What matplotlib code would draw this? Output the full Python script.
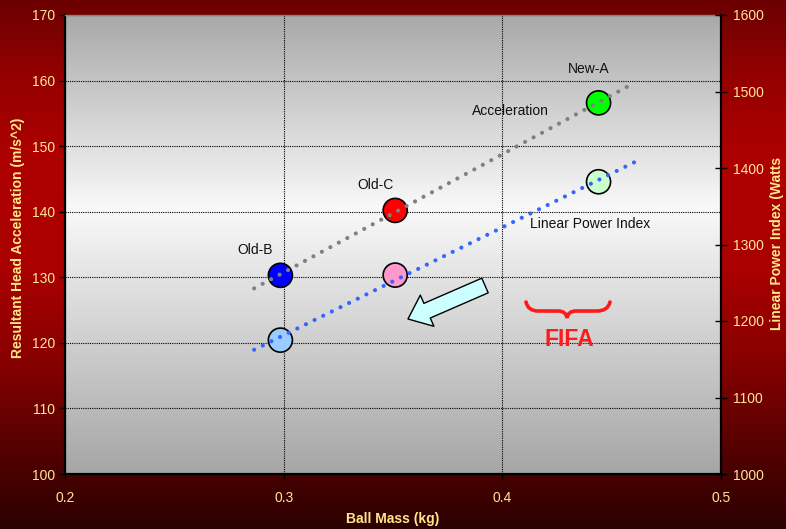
import numpy as np
import matplotlib
matplotlib.use('Agg')
import matplotlib.pyplot as plt
from matplotlib.colors import LinearSegmentedColormap
from matplotlib.patches import FancyArrowPatch, PathPatch
from matplotlib.path import Path

# ---- data ----
balls = ['Old-B', 'Old-C', 'New-A']
ball_mass = [0.2985, 0.351, 0.444]
head_accel = [130.3, 140.2, 156.6]
power_index = [1175, 1260, 1382]
accel_colors = ['#0000ff', '#ff0000', '#00ff00']
power_colors = ['#99ccff', '#ff99cc', '#ccffcc']
x_ticks = [0.2, 0.3, 0.4, 0.5]
x_tick_labels = ['0.2', '0.3', '0.4', '0.5']
y_ticks = [100, 110, 120, 130, 140, 150, 160, 170]
y2_ticks = [1000, 1100, 1200, 1300, 1400, 1500, 1600]
# trendline forecast (backward, forward), like a spreadsheet trendline
accel_forecast = (0.012, 0.014)
power_forecast = (0.012, 0.017)

plt.rcParams['font.family'] = ['Liberation Sans', 'DejaVu Sans']

W, H = 786, 529
fig = plt.figure(figsize=(W / 100, H / 100), dpi=100)

# axes placement in pixels
L, R, T, B = 65, 721, 15, 474

def fx(px):
    return (px - L) / (R - L)

def fy(py):
    return (B - py) / (B - T)

# background gradients
bg = fig.add_axes([0, 0, 1, 1], zorder=-10)
bg.axis('off')
red_cmap = LinearSegmentedColormap.from_list(
    'red', [(0, '#2c0000'), (0.14, '#520000'), (0.32, '#880000'),
            (0.5, '#ab0000'), (0.7, '#ae0000'), (0.86, '#940000'), (1, '#6c0000')])
grad = np.linspace(0, 1, 256).reshape(-1, 1)
bg.imshow(grad, cmap=red_cmap, aspect='auto', extent=[0, 1, 0, 1], origin='lower')
gray_cmap = LinearSegmentedColormap.from_list(
    'gray', [(0, '#a6a6a6'), (0.58, '#f9f9f9'), (1, '#a9a9a9')])
bg.imshow(grad, cmap=gray_cmap, aspect='auto',
          extent=[L / W, R / W, 1 - B / H, 1 - T / H], origin='lower')
bg.set_xlim(0, 1)
bg.set_ylim(0, 1)

ax = fig.add_axes([L / W, 1 - B / H, (R - L) / W, (B - T) / H])
ax.patch.set_visible(False)
ax2 = ax.twinx()
ax2.patch.set_visible(False)

ax.set_xlim(0.2, 0.5)
ax.set_ylim(100, 170)
ax2.set_ylim(1000, 1600)

tick_col = '#ffe699'
label_col = '#ffe88a'

ax.set_xticks(x_ticks)
ax.set_xticklabels(x_tick_labels)
ax.set_yticks(y_ticks)
ax2.set_yticks(y2_ticks)

ax.grid(True, color='black', linestyle=(0, (1, 1)), linewidth=0.8)

ax.tick_params(axis='y', direction='out', length=4, width=1, pad=3,
               labelsize=10, labelcolor=tick_col, right=False)
ax.tick_params(axis='x', direction='out', length=4, width=1, pad=8,
               labelsize=10, labelcolor=tick_col, top=False)
ax2.tick_params(axis='y', direction='inout', length=8, width=1, pad=5,
                labelsize=10, labelcolor=tick_col)

for s in ['left', 'bottom']:
    ax.spines[s].set_color('black')
    ax.spines[s].set_linewidth(1.6)
ax.spines['top'].set_color('#808080')
ax.spines['top'].set_linewidth(1)
ax.spines['right'].set_visible(False)
for s in ['left', 'bottom', 'top']:
    ax2.spines[s].set_visible(False)
ax2.spines['right'].set_color('black')
ax2.spines['right'].set_linewidth(1.6)

# markers
ax.scatter(ball_mass, head_accel, s=300, c=accel_colors, edgecolors='black',
           linewidths=1.2, zorder=3)
ax2.scatter(ball_mass, power_index, s=300, c=power_colors, edgecolors='black',
            linewidths=1.2, zorder=3)

# trendlines
dot_style = (0, (0.01, 2.3))
for axis, yv, col, fc in [(ax, head_accel, '#808080', accel_forecast),
                          (ax2, power_index, '#3366ff', power_forecast)]:
    coef = np.polyfit(ball_mass, yv, 1)
    tx = np.array([min(ball_mass) - fc[0], max(ball_mass) + fc[1]])
    axis.plot(tx, np.polyval(coef, tx), color=col, lw=3, linestyle=dot_style,
              dash_capstyle='round', zorder=4)

# point labels
txt_kw = dict(transform=ax2.transAxes, ha='center', va='center', fontsize=10,
              color='#111111', zorder=7)
ax2.text(fx(255), fy(250), 'Old-B', **txt_kw)
ax2.text(fx(375), fy(185), 'Old-C', **txt_kw)
ax2.text(fx(589), fy(69), 'New-A', **txt_kw)
ax2.text(fx(510), fy(111), 'Acceleration', **txt_kw)
ax2.text(fx(590), fy(224), 'Linear Power Index', **txt_kw)

# FIFA annotation
ax2.text(fx(569), fy(340), 'FIFA', transform=ax2.transAxes, ha='center',
         va='center', fontsize=16.5, fontweight='bold', color='#ff1a1a', zorder=7)
brace_px = [(526, 302), (528, 311), (538, 311), (558, 311), (566, 311),
            (567, 318), (568, 311), (576, 311), (597, 311), (608, 311), (610, 302)]
codes = [Path.MOVETO, Path.CURVE3, Path.CURVE3, Path.LINETO, Path.CURVE3,
         Path.CURVE3, Path.CURVE3, Path.CURVE3, Path.LINETO, Path.CURVE3, Path.CURVE3]
brace = Path([(fx(a), fy(b)) for a, b in brace_px], codes)
ax2.add_patch(PathPatch(brace, transform=ax2.transAxes, fill=False,
                        edgecolor='#ff1a1a', lw=2.6, capstyle='round', zorder=7))

# arrow
arrow = FancyArrowPatch((fx(485), fy(285.5)), (fx(408), fy(319)),
                        transform=ax2.transAxes,
                        arrowstyle='simple,head_length=15,head_width=24.5,tail_width=11.5',
                        mutation_scale=1, shrinkA=0, shrinkB=0,
                        facecolor='#ccffff', edgecolor='black', lw=1, zorder=6)
ax2.add_patch(arrow)

# axis titles
ax.text(0.5, fy(519), 'Ball Mass (kg)', transform=ax.transAxes, ha='center',
        va='center', fontsize=10, fontweight='bold', color=label_col)
ax.text(fx(18), fy(238), 'Resultant Head Acceleration (m/s^2)', transform=ax.transAxes,
        ha='center', va='center', rotation=90, fontsize=10, fontweight='bold',
        color=label_col)
ax2.text(fx(777), fy(243), 'Linear Power Index (Watts', transform=ax2.transAxes,
         ha='center', va='center', rotation=90, fontsize=10, fontweight='bold',
         color=label_col)

fig.savefig('out.png', dpi=100)
